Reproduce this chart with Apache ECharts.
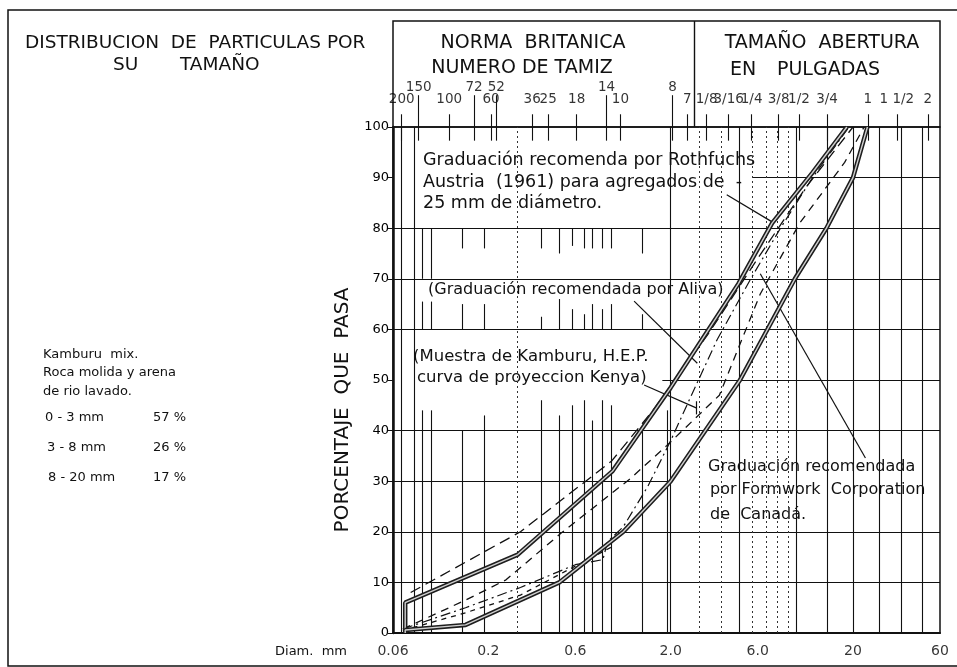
<!DOCTYPE html>
<html lang="es">
<head>
<meta charset="UTF-8">
<title>Distribución de partículas por su tamaño</title>
<script src="https://cdn.jsdelivr.net/npm/echarts@6.0.0/dist/echarts.min.js"></script>
</head>
<body style="margin:0;background:#fff">
<div id="main" style="width:957px;height:667px;"></div>
<script type="text/javascript">
// eje x: diametro en mm (logaritmico)
var xTicks = [0.06, 0.2, 0.6, 2, 6, 20, 60];
var xTickText = ['0.06', '0.2', '0.6', '2.0', '6.0', '20', '60'];

// tamices britanicos y pulgadas (posicion en mm)
var sieveTopPos = [0.083, 0.167, 0.221, 0.89, 2.05];
var sieveTopText = ['150', '72', '52', '14', '8'];
var sievePos = [0.067, 0.122, 0.207, 0.348, 0.426, 0.61, 1.06, 2.47];
var sieveText = ['200', '100', '60', '36', '25', '18', '10', '7'];
var inchPos = [3.15, 4.16, 5.56, 7.82, 10.1, 14.4, 24.1, 34.8, 51.5];
var inchText = ['1/8', '3/16', '1/4', '3/8', '1/2', '3/4', '1', '1 1/2', '2'];

// curvas granulometricas [mm, % que pasa]
var upperSolid = [[0.070, 0], [0.070, 6], [0.29, 15.5], [0.96, 32], [2.0, 48.5], [4.7, 69], [7.2, 81], [12, 91], [18.5, 100]];
var lowerSolid = [[0.070, 0], [0.070, 0.6], [0.15, 1.6], [0.49, 10], [1.1, 20], [2.0, 30], [4.8, 50], [9.6, 70], [14.3, 80], [20, 90], [24, 100]];
var longDash = [[0.075, 8], [0.3, 20], [0.95, 34], [1.6, 44], [3.2, 59], [6, 74], [11, 88], [20, 100]];
var midDash = [[0.068, 0.8], [0.15, 6.5], [0.25, 10.5], [0.5, 19.7], [1.2, 30.5], [1.9, 37], [3.7, 47], [6.2, 67], [10.2, 81], [18, 93], [23, 100]];
var shortDash = [[0.068, 0.5], [0.15, 4], [0.3, 7.5], [0.55, 12.5], [0.95, 17]];
var kamburu = [[0.068, 0.8], [0.15, 5], [0.3, 9], [0.6, 13.5], [0.85, 14.5], [0.9, 18], [1.1, 21], [1.5, 29], [2.0, 38], [2.6, 47], [3.6, 58], [5.5, 70], [8, 80], [12, 90], [19, 100]];

// lineas guia de las notas
var leaderRothfuchs = [[4.06, 86.6], [7.16, 81.3]];
var leaderAliva = [[1.26, 65.6], [2.8, 53.3]];
var leaderKenya = [[1.43, 49], [2.76, 44.5]];
var leaderFormwork = [[6.2, 71], [23.4, 34.6]];
var barKenya = [[2.76, 43.2], [2.76, 45.8]];

// reticula
var hFull = [10, 20, 40, 60, 70, 80];
var hPartY = [90, 50, 30];
var hPartFrom = [5.6, 1.8, 0.06];
var hPartTo = [60, 60, 2.0];
var vFull = [0.067, 0.078, 2.0, 4.78, 9.8, 14.5, 20, 28, 37, 48];
var vDotted = [0.288, 2.88, 3.8, 5.6, 6.7, 7.7, 8.8];
var vLowPos = [0.087, 0.097, 0.144, 0.19, 0.39, 0.49, 0.58, 0.67, 0.74, 0.84, 0.95, 1.40, 1.92];
var vLowTop = [44, 44, 40, 43, 46, 43, 45, 46, 42, 46, 45, 40, 44];
var stubPos = [0.087, 0.097, 0.144, 0.19, 0.39, 0.49, 0.58, 0.67, 0.74, 0.84, 0.95, 1.40];
var stub80End = [70, 70, 76, 76, 76, 75, 76.5, 76, 76, 76, 76, 75];
var stub60End = [65.5, 65.5, 65, 65, 62.5, 66, 64, 63, 65, 64, 65, 63];
var headerDivider = 2.7;

var myChart = echarts.init(document.getElementById('main'));
var FONT = 'DejaVu Sans';
var INK = '#111';

function seg(a, b, style) {
    return [{ coord: a, lineStyle: style }, { coord: b }];
}

var solidGrid = { color: INK, width: 1.1, type: 'solid' };
var dotGrid = { color: '#333', width: 1, type: [2, 3] };
var gridSegs = [];
hFull.forEach(function (y) { gridSegs.push(seg([0.06, y], [60, y], solidGrid)); });
hPartY.forEach(function (y, i) { gridSegs.push(seg([hPartFrom[i], y], [hPartTo[i], y], solidGrid)); });
vFull.forEach(function (x) { gridSegs.push(seg([x, 0], [x, 100], solidGrid)); });
vDotted.forEach(function (x) { gridSegs.push(seg([x, 0], [x, 100], dotGrid)); });
vLowPos.forEach(function (x, i) { gridSegs.push(seg([x, 0], [x, vLowTop[i]], solidGrid)); });
stubPos.forEach(function (x, i) {
    gridSegs.push(seg([x, 80], [x, stub80End[i]], solidGrid));
    gridSegs.push(seg([x, 60], [x, stub60End[i]], solidGrid));
});
sievePos.concat(sieveTopPos, inchPos).forEach(function (x) {
    gridSegs.push(seg([x, 100], [x, 97.3], solidGrid));
});

var leaderStyle = { color: INK, width: 1.2, type: 'solid' };
var leaderSegs = [leaderRothfuchs, leaderAliva, leaderKenya, leaderFormwork, barKenya].map(function (p) {
    return seg(p[0], p[1], leaderStyle);
});

// marcas y divisor de la cabecera
var headSegs = [];
sievePos.concat(inchPos).forEach(function (x) { headSegs.push(seg([x, 0], [x, 0.12], solidGrid)); });
sieveTopPos.forEach(function (x) { headSegs.push(seg([x, 0], [x, 0.30], solidGrid)); });
headSegs.push(seg([headerDivider, 0], [headerDivider, 1], { color: INK, width: 1.4, type: 'solid' }));

function labelSeries(xs, texts, yVal, axisIdx, size, pos, dist) {
    return {
        type: 'scatter', xAxisIndex: axisIdx, yAxisIndex: axisIdx, silent: true, clip: false,
        symbolSize: 0,
        data: xs.map(function (x) { return [x, yVal]; }),
        label: {
            show: true, position: pos, distance: dist, color: '#000',
            fontFamily: FONT, fontSize: size,
            formatter: function (p) { return texts[p.dataIndex]; }
        }
    };
}

function curve(data, width, color, type) {
    return {
        type: 'line', data: data, symbol: 'none', silent: true, z: 5,
        lineStyle: { color: color, width: width, type: type }
    };
}

function txt(x, y, s, size, align) {
    return {
        type: 'text', x: x, y: y, silent: true,
        style: { text: s, fill: INK, font: size + 'px "' + FONT + '"', align: align || 'left', verticalAlign: 'middle' }
    };
}

var option = {
    backgroundColor: '#fff',
    animation: false,
    grid: [
        { left: 393, right: 17, top: 127, bottom: 34, show: true, borderColor: INK, borderWidth: 1.5 },
        { left: 393, right: 17, top: 21, height: 106, show: true, borderColor: INK, borderWidth: 1.5 }
    ],
    xAxis: [
        { type: 'log', logBase: 10, min: 0.06, max: 60, gridIndex: 0,
          axisLine: { show: true, lineStyle: { color: INK, width: 2 } },
          axisTick: { show: false }, axisLabel: { show: false }, splitLine: { show: false }, minorSplitLine: { show: false } },
        { type: 'log', logBase: 10, min: 0.06, max: 60, gridIndex: 1, show: false }
    ],
    yAxis: [
        { type: 'value', min: 0, max: 100, interval: 10, gridIndex: 0,
          axisLine: { show: true, lineStyle: { color: INK, width: 2.5 } },
          axisTick: { show: true, length: 5, lineStyle: { color: INK } },
          axisLabel: { color: '#000', fontFamily: FONT, fontSize: 13, margin: 4 },
          splitLine: { show: false } },
        { type: 'value', min: 0, max: 1, gridIndex: 1, show: false }
    ],
    series: [
        {
            type: 'line', data: [], silent: true,
            markLine: { silent: true, symbol: 'none', label: { show: false }, animation: false, data: gridSegs.concat(leaderSegs) }
        },
        {
            type: 'line', data: [], xAxisIndex: 1, yAxisIndex: 1, silent: true,
            markLine: { silent: true, symbol: 'none', label: { show: false }, animation: false, data: headSegs }
        },
        curve(longDash, 1.3, INK, [11, 6]),
        curve(midDash, 1.3, INK, [8, 6]),
        curve(shortDash, 1.3, INK, [5, 5]),
        curve(kamburu, 1.2, INK, [10, 4, 2, 4]),
        curve(upperSolid, 4.5, '#1e1e1e', 'solid'),
        curve(upperSolid, 1.4, '#cfcfcf', 'solid'),
        curve(lowerSolid, 4.5, '#1e1e1e', 'solid'),
        curve(lowerSolid, 1.4, '#cfcfcf', 'solid'),
        labelSeries(xTicks, xTickText, 0, 0, 14, 'bottom', 11),
        labelSeries(sievePos, sieveText, 0.255, 1, 13.5, 'inside', 0),
        labelSeries(inchPos, inchText, 0.255, 1, 13.5, 'inside', 0),
        labelSeries(sieveTopPos, sieveTopText, 0.37, 1, 13.5, 'inside', 0)
    ],
    graphic: [
        { type: 'rect', silent: true, shape: { x: 8, y: 10, width: 960, height: 656 },
          style: { fill: 'none', stroke: INK, lineWidth: 1.5 } },
        txt(25, 43, 'DISTRIBUCION  DE  PARTICULAS POR', 18.5),
        txt(113, 65, 'SU', 18.5),
        txt(180, 65, 'TAMAÑO', 18.5),
        txt(533, 43, 'NORMA  BRITANICA', 19, 'center'),
        txt(522, 68, 'NUMERO DE TAMIZ', 19, 'center'),
        txt(822, 43, 'TAMAÑO  ABERTURA', 19, 'center'),
        txt(730, 70, 'EN', 19),
        txt(777, 70, 'PULGADAS', 19),
        txt(43, 355, 'Kamburu  mix.', 13),
        txt(43, 373, 'Roca molida y arena', 13),
        txt(43, 392, 'de rio lavado.', 13),
        txt(45, 418, '0 - 3 mm', 13), txt(153, 418, '57 %', 13),
        txt(47, 448, '3 - 8 mm', 13), txt(153, 448, '26 %', 13),
        txt(48, 478, '8 - 20 mm', 13), txt(153, 478, '17 %', 13),
        txt(423, 160, 'Graduación recomenda por Rothfuchs', 17.5),
        txt(423, 182, 'Austria  (1961) para agregados de  -', 17.5),
        txt(423, 203, '25 mm de diámetro.', 17.5),
        txt(428, 290, '(Graduación recomendada por Aliva)', 16),
        txt(413, 357, '(Muestra de Kamburu, H.E.P.', 16.5),
        txt(417, 378, 'curva de proyeccion Kenya)', 16.5),
        txt(708, 467, 'Graduación recomendada', 16),
        txt(710, 490, 'por Formwork  Corporation', 16),
        txt(710, 515, 'de  Canadá.', 16),
        txt(347, 652, 'Diam.  mm', 13, 'right'),
        { type: 'text', x: 343, y: 410, rotation: Math.PI / 2, silent: true,
          style: { text: 'PORCENTAJE  QUE  PASA', fill: INK, font: '20px "' + FONT + '"', align: 'center', verticalAlign: 'middle' } }
    ]
};

myChart.setOption(option);
</script>
</body>
</html>
